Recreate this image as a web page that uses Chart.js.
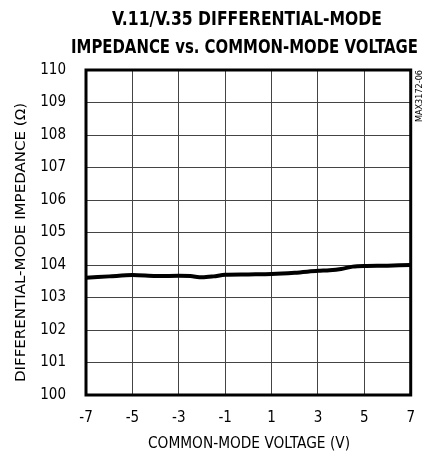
<!DOCTYPE html>
<html><head><meta charset="utf-8">
<script src="https://cdn.jsdelivr.net/npm/chart.js@4/dist/chart.umd.min.js"></script>
<style>html,body{margin:0;padding:0;background:#fff}#wrap{width:429px;height:455px}</style>
</head><body><div id="wrap"><canvas id="c" width="429" height="455"></canvas></div>
<script>
const titleLines = ["V.11/V.35 DIFFERENTIAL-MODE", "IMPEDANCE vs. COMMON-MODE VOLTAGE"];
const xTitle = "COMMON-MODE VOLTAGE (V)";
const yTitle = "DIFFERENTIAL-MODE IMPEDANCE (\u03A9)";
const sideLabel = "MAX3172-06";
const voltage = [-7, -6, -5, -4, -3, -2.5, -2, -1.5, -1, 0, 1, 2, 3, 3.5, 4, 4.5, 5, 6, 7];
const impedance = [103.61, 103.65, 103.69, 103.66, 103.67, 103.66, 103.62, 103.65, 103.70, 103.71, 103.72, 103.76, 103.82, 103.84, 103.88, 103.95, 103.97, 103.98, 104.0];
const xTicks = [-7, -5, -3, -1, 1, 3, 5, 7];
const yTicks = [100, 101, 102, 103, 104, 105, 106, 107, 108, 109, 110];

const FONT = "'DejaVu Sans Condensed', 'Liberation Sans Narrow', 'Liberation Sans', sans-serif";

function fitText(ctx, text, cx, cy, width, rot) {
  const w = ctx.measureText(text).width;
  ctx.save();
  ctx.translate(cx, cy);
  if (rot) ctx.rotate(rot);
  ctx.scale(width / w, 1);
  ctx.fillText(text, 0, 0);
  ctx.restore();
}

const deco = {
  id: 'deco',
  afterDraw(chart) {
    const ctx = chart.ctx, a = chart.chartArea;
    ctx.save();
    ctx.strokeStyle = '#000';
    ctx.lineWidth = 3;
    ctx.strokeRect(a.left, a.top, a.right - a.left, a.bottom - a.top);
    ctx.fillStyle = '#000';
    ctx.textAlign = 'center';
    ctx.textBaseline = 'middle';
    ctx.font = "bold 20px " + FONT;
    fitText(ctx, titleLines[0], 247, 20, 270, 0);
    fitText(ctx, titleLines[1], 244.5, 48, 347, 0);
    ctx.font = "14px " + FONT;
    fitText(ctx, yTitle, 21, 242.5, 279, -Math.PI / 2);
    ctx.font = "16px " + FONT;
    fitText(ctx, xTitle, 249, 444, 202, 0);
    ctx.font = "8px " + FONT;
    fitText(ctx, sideLabel, 419.5, 96, 52, -Math.PI / 2);
    ctx.restore();
  }
};

new Chart(document.getElementById('c'), {
  type: 'line',
  data: {
    datasets: [{
      data: voltage.map((v, i) => ({x: v, y: impedance[i]})),
      borderColor: '#000',
      borderWidth: 4,
      pointRadius: 0,
      tension: 0.3,
      fill: false
    }]
  },
  options: {
    responsive: false,
    animation: false,
    layout: {padding: {top: 70, right: 17, left: 0, bottom: 0}},
    plugins: {legend: {display: false}, title: {display: false}, tooltip: {enabled: false}},
    scales: {
      x: {
        type: 'linear', min: -7, max: 7,
        afterBuildTicks(s) { s.ticks = xTicks.map(v => ({value: v})); },
        afterFit(s) { s.height = 60; },
        grid: {color: '#444', lineWidth: 1, drawTicks: false},
        border: {display: false},
        ticks: {color: '#000', font: {family: FONT, size: 15}, padding: 14, maxRotation: 0},
        title: {display: false}
      },
      y: {
        type: 'linear', min: 100, max: 110,
        afterBuildTicks(s) { s.ticks = yTicks.map(v => ({value: v})); },
        afterFit(s) { s.width = 86; },
        grid: {color: '#444', lineWidth: 1, drawTicks: false},
        border: {display: false},
        ticks: {color: '#000', font: {family: FONT, size: 15}, padding: 20},
        title: {display: false}
      }
    }
  },
  plugins: [deco]
});
</script></body></html>
